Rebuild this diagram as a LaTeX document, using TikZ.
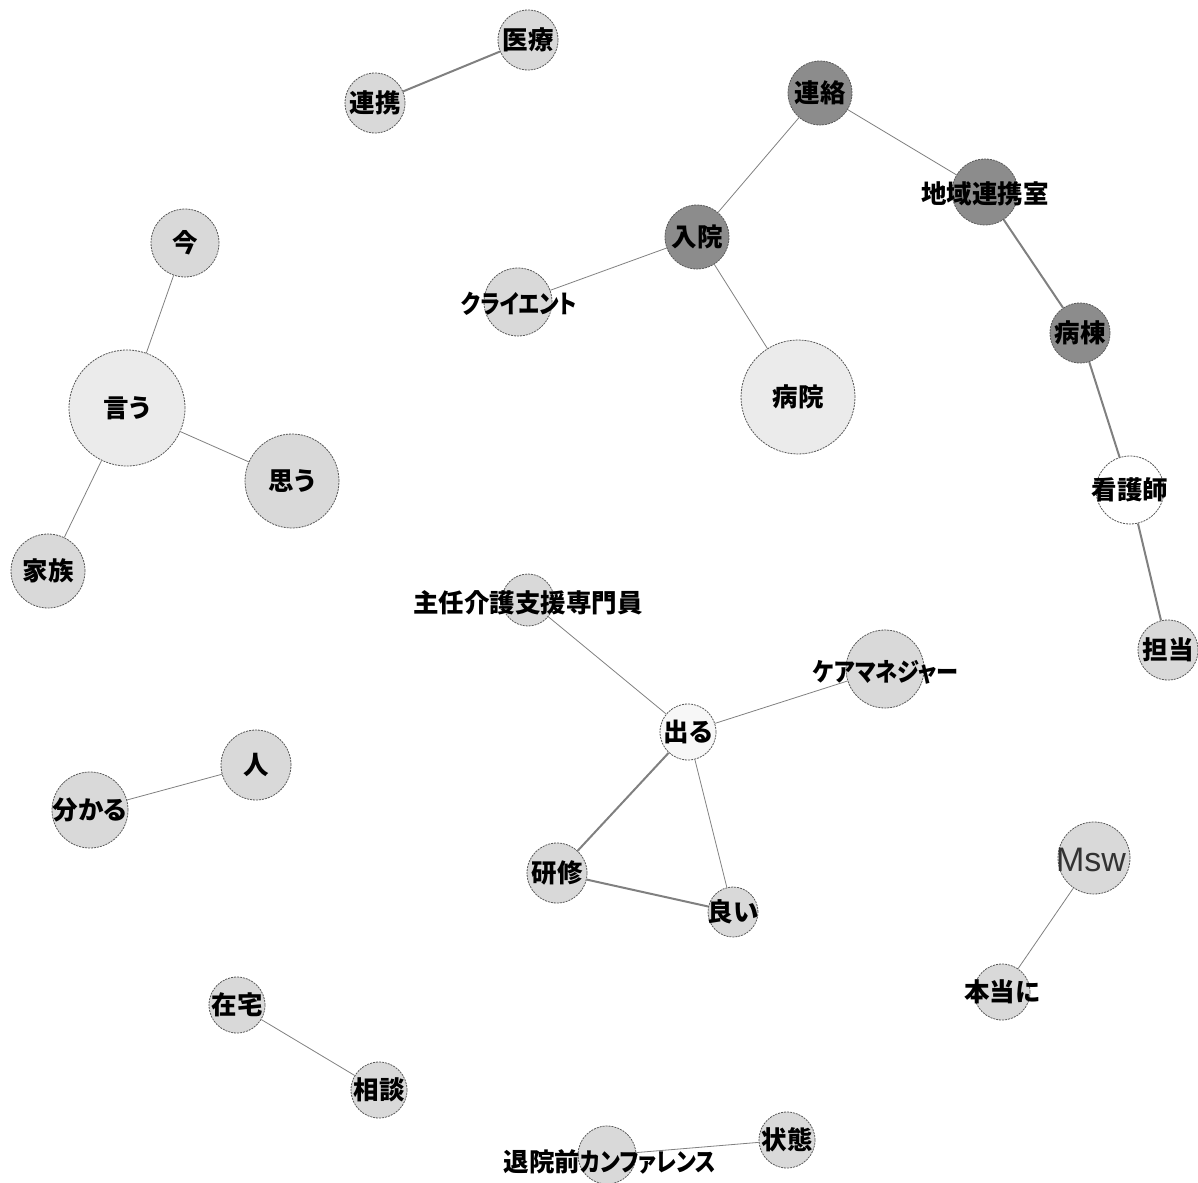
\documentclass[tikz,border=0pt]{standalone}
\usepackage{fontspec}
\usepackage{tikz}
\usetikzlibrary{backgrounds}
\newfontfamily\jp{Noto Sans CJK JP}
\newfontfamily\jpp{Noto Sans CJK JP}[RawFeature=+palt]
\newfontfamily\lat{Liberation Sans}

\begin{document}
\begin{tikzpicture}[x=1pt,y=-1pt,
        word/.style={circle,draw=black!65,dash pattern=on 2pt off 1pt,line width=.8pt,
            inner sep=0pt,minimum size=#1,fill=black!15},
        dark/.style={fill=black!45},
        pale/.style={fill=black!8},
        blank/.style={fill=white},
        txt/.style={font=\jp\bfseries\fontsize{25.5}{25.5}\selectfont,inner sep=0pt},
        kana/.style={font=\jpp\bfseries\fontsize{25.5}{25.5}\selectfont,inner sep=0pt},
        tie/.style={draw=black!50,line width=.8pt},
        bold tie/.style={draw=black!50,line width=2pt}]
        \useasboundingbox (0,0) rectangle (1198,1182);
        % top left pair
        \node[word=60] (iryo) at (528,40) {};
        \node[word=60] (renkei) at (375,103) {};
        % hospital group
        \node[word=64,dark] (renraku) at (820,93) {};
        \node[word=66,dark] (chiiki) at (985,192) {};
        \node[word=64,dark] (nyuin) at (697,237) {};
        \node[word=68] (client) at (518,302) {};
        \node[word=114,pale] (byoin) at (798,397) {};
        \node[word=60,dark] (byoto) at (1080,333) {};
        \node[word=68,blank] (kango) at (1130,490) {};
        \node[word=60] (tanto) at (1168,650) {};
        % left group
        \node[word=68] (ima) at (185,243) {};
        \node[word=116,pale] (iu) at (127,408) {};
        \node[word=94] (omou) at (292,481) {};
        \node[word=74] (kazoku) at (48,571) {};
        % centre group
        \node[word=52] (shunin) at (528,600) {};
        \node[word=78] (caremane) at (885,669) {};
        \node[word=56,fill=black!3] (deru) at (688,732) {};
        \node[word=60] (kenshu) at (557,873) {};
        \node[word=50] (yoi) at (733,912) {};
        % other pairs
        \node[word=70] (hito) at (256,765) {};
        \node[word=76] (wakaru) at (90,810) {};
        \node[word=72] (msw) at (1094,858) {};
        \node[word=56] (honto) at (1002,992) {};
        \node[word=56] (zaitaku) at (237,1005) {};
        \node[word=56] (sodan) at (379,1090) {};
        \node[word=58] (conf) at (607,1155) {};
        \node[word=56] (jotai) at (787,1140) {};

        \node[txt] (t1) at (iryo) {医療};
        \node[txt] (t2) at (renkei) {連携};
        \node[txt] (t3) at (renraku) {連絡};
        \node[txt] (t4) at (985,194) {地域連携室};
        \node[txt] (t5) at (nyuin) {入院};
        \node[kana] (t6) at (519,304) {\scalebox{.84}[1]{クライエント}};
        \node[txt] (t7) at (byoin) {病院};
        \node[txt] (t8) at (byoto) {病棟};
        \node[txt] (t9) at (kango) {看護師};
        \node[txt] (t10) at (tanto) {担当};
        \node[txt] (t11) at (ima) {今};
        \node[kana] (t12) at (iu) {言う};
        \node[kana] (t13) at (omou) {思う};
        \node[txt] (t14) at (kazoku) {家族};
        \node[txt] (t15) at (528,603) {主任介護支援専門員};
        \node[kana] (t16) at (886,672) {\scalebox{.87}[1]{ケアマネジャー}};
        \node[kana] (t17) at (deru) {出る};
        \node[txt] (t18) at (kenshu) {研修};
        \node[kana] (t19) at (yoi) {良い};
        \node[txt] (t20) at (hito) {人};
        \node[kana] (t21) at (wakaru) {分かる};
        \node[font=\lat\fontsize{34}{34}\selectfont,text=black!80,inner sep=0pt] (t22) at (1091,860) {Msw};
        \node[kana] (t23) at (honto) {本当に};
        \node[txt] (t24) at (zaitaku) {在宅};
        \node[txt] (t25) at (sodan) {相談};
        \node[kana] (t26) at (610,1162) {退院前\scalebox{.85}[1]{カンファレンス}};
        \node[txt] (t27) at (jotai) {状態};

        \begin{pgfonlayer}{background}
        \draw[bold tie] (iryo)--(renkei);
        \draw[tie] (renraku)--(chiiki);
        \draw[tie] (renraku)--(nyuin);
        \draw[tie] (nyuin)--(client);
        \draw[tie] (nyuin)--(byoin);
        \draw[bold tie] (chiiki)--(byoto);
        \draw[bold tie] (byoto)--(kango);
        \draw[bold tie] (kango)--(tanto);
        \draw[tie] (iu)--(ima);
        \draw[tie] (iu)--(omou);
        \draw[tie] (iu)--(kazoku);
        \draw[tie] (deru)--(shunin);
        \draw[tie] (deru)--(caremane);
        \draw[bold tie] (deru)--(kenshu);
        \draw[tie] (deru)--(yoi);
        \draw[bold tie] (kenshu)--(yoi);
        \draw[tie] (hito)--(wakaru);
        \draw[tie] (msw)--(honto);
        \draw[tie] (zaitaku)--(sodan);
        \draw[tie] (conf)--(jotai);
        \end{pgfonlayer}
\end{tikzpicture}
\end{document}
